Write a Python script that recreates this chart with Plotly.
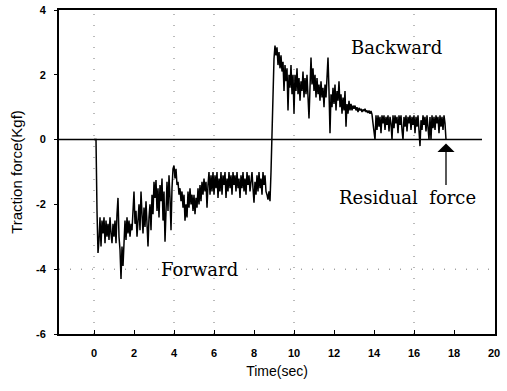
import numpy as np
import plotly.graph_objects as go

# Sampling interval of the force record (s)
DT = 0.05

# Traction force (Kgf), one row per second of record
force = [
    # 0 s
    0, 0, 0, -2.2, -3.5, -3.1, -2.4, -3.3, -2.5, -2.9, -2.4, -3.2, -2.5, -3.0, -2.6, -3.1, -2.4, -2.9, -3.2, -2.6,
    # 1 s
    -3.0, -2.5, -3.2, -2.3, -1.8, -3.0, -3.4, -4.3, -3.3, -3.9, -3.0, -2.5, -3.1, -2.4, -2.9, -2.5, -3.0, -2.6, -2.8, -2.3,
    # 2 s
    -1.6, -2.6, -2.2, -3.0, -2.4, -2.0, -2.8, -1.6, -2.3, -2.9, -2.1, -2.7, -1.9, -2.5, -3.3, -2.4, -2.0, -2.8, -1.7, -2.3,
    # 3 s
    -1.3, -1.8, -1.25, -2.2, -1.5, -2.4, -1.4, -1.9, -1.2, -2.5, -1.6, -3.15, -2.0, -1.3, -2.2, -1.1, -1.8, -2.8, -1.5, -0.9,
    # 4 s
    -0.8, -1.2, -0.9, -1.4, -1.3, -1.7, -1.5, -1.9, -1.6, -2.1, -1.7, -2.5, -2.0, -2.4, -1.6, -2.1, -1.5, -2.0, -1.7, -2.2,
    # 5 s
    -1.7, -2.3, -1.8, -2.1, -1.5, -2.0, -1.4, -1.9, -1.3, -1.7, -1.2, -1.6, -1.3, -2.1, -1.4, -1.0, -1.7, -1.1, -1.6, -1.0,
    # 6 s
    -1.7, -1.1, -1.5, -1.0, -1.8, -1.2, -1.6, -1.0, -1.7, -1.1, -1.4, -1.0, -1.8, -1.2, -1.6, -1.0, -1.5, -1.1, -1.7, -1.0,
    # 7 s
    -1.4, -1.1, -1.6, -1.0, -1.5, -1.2, -1.8, -1.1, -1.5, -1.0, -1.6, -1.2, -1.7, -1.0, -1.4, -1.1, -1.6, -1.2, -1.0, -1.5,
    # 8 s
    -1.95, -1.3, -1.7, -1.1, -1.6, -1.0, -1.5, -1.2, -1.7, -1.0, -1.4, -1.1, -1.6, -1.7, -1.85, -1.6, -1.9, -1.0, 0.3, 1.8,
    # 9 s
    2.5, 2.9, 2.6, 2.85, 2.3, 2.7, 2.2, 2.6, 2.1, 2.4, 1.5, 2.3, 1.8, 2.2, 0.9, 2.0, 1.6, 2.3, 1.4, 2.0,
    # 10 s
    0.8, 2.0, 1.5, 2.2, 1.4, 1.9, 1.2, 1.8, 1.5, 2.1, 1.3, 1.9, 1.4, 2.0, 1.2, 0.65, 1.6, 2.53, 1.7, 2.2,
    # 11 s
    1.5, 2.0, 1.3, 1.9, 1.4, 1.7, 1.2, 1.8, 1.3, 1.6, 1.0, 1.7, 1.3, 1.9, 2.53, 1.5, 0.2, 1.4, 1.0, 1.6,
    # 12 s
    1.1, 1.7, 0.9, 1.5, 1.2, 1.8, 1.0, 1.4, 0.8, 1.3, 0.9, 1.5, 0.4, 1.1, 0.8, 1.2, 0.9, 1.1, 0.9, 1.05,
    # 13 s
    0.95, 1.05, 0.9, 1.0, 0.85, 0.98, 0.9, 0.95, 0.85, 0.93, 0.88, 0.95, 0.85, 0.9, 0.82, 0.9, 0.8, 0.88, 0.78, 0.5,
    # 14 s
    0.1, 0.0, 0.75, 0.3, 0.75, 0.4, 0.7, 0.2, 0.75, 0.5, 0.75, 0.3, 0.7, 0.45, 0.75, 0.25, 0.7, 0.5, 0.0, 0.75,
    # 15 s
    0.35, 0.75, 0.5, 0.7, 0.2, 0.75, 0.45, 0.75, 0.3, 0.0, 0.7, 0.4, 0.75, 0.25, 0.7, 0.5, 0.75, 0.3, 0.7, 0.45,
    # 16 s
    0.75, 0.2, 0.7, 0.4, 0.75, 0.1, -0.2, 0.6, 0.3, 0.75, 0.45, 0.7, 0.25, 0.75, 0.4, 0.0, 0.7, 0.0, 0.75, 0.35,
    # 17 s
    0.7, 0.3, 0.75, 0.5, 0.7, 0.2, 0.75, 0.4, 0.7, 0.3, 0.75, 0.5, 0.0,
]
time = np.round(np.arange(len(force)) * DT, 2)

x_ticks = [0, 2, 4, 6, 8, 10, 12, 14, 16, 18, 20]
y_ticks = [-6, -4, -2, 0, 2, 4]

# Sparse dotted reference lines
grid_x = [0, 4, 6, 10, 16]
grid_y = [-4]

# Residual force marker: arrow tip and tail
residual_t = 17.6
residual_tip = -0.12
residual_tail = -1.45

X_RANGE = [-1.75, 20.05]
Y_RANGE = [-6, 4]
ZERO_LINE_END = 19.4

fig = go.Figure()

fig.add_trace(go.Scatter(
    x=time, y=force, mode="lines",
    line=dict(color="black", width=1.5),
    showlegend=False, hoverinfo="skip",
))

shapes = []
for gx in grid_x:
    shapes.append(dict(type="line", xref="x", yref="y", x0=gx, x1=gx, y0=Y_RANGE[0], y1=Y_RANGE[1],
                       line=dict(color="#777777", width=1, dash="1px,10px"), layer="below"))
for gy in grid_y:
    shapes.append(dict(type="line", xref="x", yref="y", x0=X_RANGE[0], x1=X_RANGE[1], y0=gy, y1=gy,
                       line=dict(color="#777777", width=1, dash="1px,10px"), layer="below"))
# zero reference line
shapes.append(dict(type="line", xref="x", yref="y", x0=X_RANGE[0], x1=ZERO_LINE_END, y0=0, y1=0,
                   line=dict(color="black", width=1.5)))

serif = dict(family="DejaVu Serif", size=18, color="black")
annotations = [
    dict(x=15.1, y=2.85, xref="x", yref="y", text="Backward", showarrow=False, font=serif),
    dict(x=5.25, y=-4.0, xref="x", yref="y", text="Forward", showarrow=False, font=serif),
    dict(x=15.65, y=-1.8, xref="x", yref="y", text="Residual&nbsp;&nbsp;force", showarrow=False, font=serif),
    dict(x=residual_t, y=residual_tip, ax=residual_t, ay=residual_tail, xref="x", yref="y",
         axref="x", ayref="y", text="", showarrow=True, arrowhead=1, arrowsize=2.2,
         arrowwidth=1.3, arrowcolor="black"),
]

tick_font = dict(family="Liberation Sans", size=11, color="black")
title_font = dict(family="Liberation Sans", size=14, color="black")

fig.update_layout(
    width=507, height=391,
    margin=dict(l=59, r=12, t=10, b=57, autoexpand=False),
    paper_bgcolor="white", plot_bgcolor="white",
    shapes=shapes, annotations=annotations,
    xaxis=dict(
        range=X_RANGE, tickvals=x_ticks, ticktext=[f"<b>{v}</b>" for v in x_ticks],
        ticks="inside", ticklen=4, tickwidth=1,
        tickcolor="black", tickfont=tick_font, ticklabelstandoff=8,
        showgrid=False, zeroline=False, automargin=False,
        showline=True, linecolor="black", linewidth=1.5, mirror=True,
        title=dict(text="Time(sec)", font=title_font, standoff=8),
    ),
    yaxis=dict(
        range=Y_RANGE, tickvals=y_ticks, ticktext=[f"<b>{v}</b>" for v in y_ticks],
        ticks="outside", ticklen=3, tickwidth=1,
        tickcolor="black", tickfont=tick_font, ticklabelstandoff=6,
        showgrid=False, zeroline=False, automargin=False,
        showline=True, linecolor="black", linewidth=1.8, mirror=True,
        title=dict(text="Traction force(Kgf)", font=dict(family="Liberation Sans", size=15, color="black"), standoff=10),
    ),
)

fig.write_html("out.html")
